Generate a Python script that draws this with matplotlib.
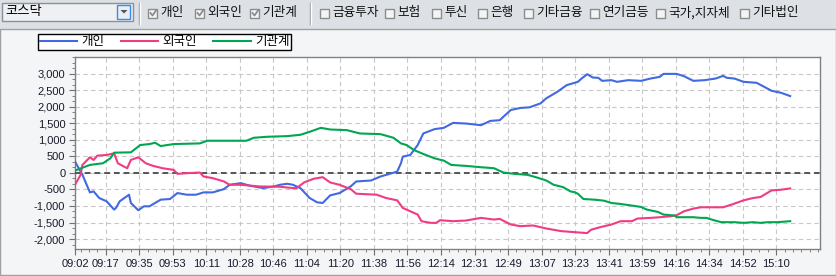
import matplotlib
matplotlib.use("Agg")
import matplotlib.pyplot as plt
from matplotlib.patches import Rectangle
from matplotlib.ticker import MultipleLocator, FuncFormatter

plt.rcParams['font.family'] = ['Liberation Sans', 'Noto Sans CJK KR']

# 시간축 라벨
time_labels = ['09:02', '09:17', '09:35', '09:53', '10:11', '10:28', '10:46', '11:04',
               '11:20', '11:38', '11:56', '12:14', '12:31', '12:49', '13:07', '13:23',
               '13:41', '13:59', '14:16', '14:34', '14:52', '15:10']

# 개인 (x = 데이터 순번, y = 순매수)
gaein_x = [0, 4, 8, 10, 13, 17, 21, 22, 24, 29, 30, 34, 37, 40, 46, 51, 55, 60, 65, 69,
           74, 80, 83, 89, 94, 101, 107, 110, 114, 117, 121, 126, 130, 133, 137, 142, 148,
           151, 159, 164, 169, 173, 175, 176, 180, 184, 187, 193, 198, 203, 210, 218, 223,
           228, 234, 239, 244, 250, 253, 259, 264, 270, 272, 275, 278, 281, 283, 288, 291,
           297, 304, 309, 314, 316, 323, 327, 332, 338, 344, 348, 350, 354, 359, 366, 370,
           374, 379, 384]
gaein_y = [340, -60, -590, -560, -760, -860, -1110, -1060, -860, -660, -910, -1130, -1010,
           -1010, -810, -790, -610, -660, -660, -590, -590, -490, -360, -310, -390, -460,
           -410, -360, -330, -360, -460, -760, -890, -910, -680, -610, -410, -260, -230,
           -110, -30, 40, 290, 490, 540, 840, 1190, 1320, 1360, 1510, 1490, 1440, 1570,
           1590, 1900, 1960, 1980, 2100, 2250, 2450, 2650, 2750, 2850, 2980, 2880, 2870,
           2780, 2800, 2750, 2800, 2780, 2850, 2900, 2990, 2990, 2920, 2780, 2800, 2850,
           2930, 2870, 2850, 2750, 2720, 2600, 2480, 2420, 2320]

# 외국인
foreign_x = [0, 3, 4, 8, 10, 12, 17, 21, 23, 28, 30, 34, 38, 42, 47, 53, 55, 60, 67, 69,
             74, 80, 83, 89, 99, 110, 117, 119, 123, 128, 133, 137, 142, 148, 151, 162,
             167, 173, 176, 180, 184, 186, 191, 194, 196, 203, 210, 218, 225, 228, 234,
             239, 246, 253, 261, 268, 275, 277, 282, 288, 293, 299, 302, 309, 314, 320,
             323, 327, 332, 336, 348, 354, 359, 364, 368, 374, 379, 384]
foreign_y = [-360, -60, 240, 470, 390, 520, 540, 590, 290, 140, 390, 470, 290, 210, 140,
             90, -30, -10, 10, -110, -160, -260, -360, -360, -410, -420, -460, -460, -290,
             -180, -130, -290, -360, -490, -630, -660, -760, -830, -1060, -1160, -1260,
             -1460, -1510, -1510, -1430, -1460, -1440, -1360, -1410, -1390, -1560, -1610,
             -1590, -1680, -1760, -1790, -1820, -1720, -1640, -1560, -1460, -1460, -1380,
             -1360, -1340, -1310, -1280, -1160, -1080, -1040, -1040, -930, -830, -760,
             -730, -530, -510, -470]

# 기관계
inst_x = [0, 8, 15, 19, 21, 30, 35, 40, 43, 46, 53, 67, 71, 92, 96, 103, 114, 121, 126,
          132, 137, 146, 153, 164, 171, 175, 178, 182, 187, 193, 198, 202, 210, 218, 225,
          230, 236, 243, 248, 253, 257, 262, 266, 268, 270, 273, 279, 284, 288, 293, 298,
          304, 307, 313, 316, 322, 323, 332, 336, 339, 343, 347, 354, 359, 364, 368, 372,
          377, 384]
inst_y = [70, 240, 290, 440, 610, 620, 840, 870, 910, 810, 870, 890, 970, 970, 1060, 1090,
          1110, 1150, 1240, 1360, 1310, 1290, 1190, 1170, 1060, 890, 840, 690, 570, 440,
          370, 240, 210, 170, 140, 10, -30, -60, -140, -230, -360, -430, -560, -580, -630,
          -790, -810, -840, -910, -940, -980, -1030, -1110, -1180, -1260, -1290, -1340,
          -1340, -1360, -1360, -1430, -1490, -1490, -1510, -1490, -1510, -1490, -1490,
          -1460]

W, H = 837, 276
fig = plt.figure(figsize=(W / 100, H / 100), dpi=100)
fig.patch.set_facecolor('#dde1e6')

# 배경 (툴바 + 차트 패널), 픽셀 좌표
bg = fig.add_axes([0, 0, 1, 1], zorder=-5)
bg.set_xlim(0, W)
bg.set_ylim(H, 0)
bg.axis('off')
bg.add_patch(Rectangle((0.5, 28.5), W - 1.5, H - 29.5, facecolor='#f3f5f7',
                       edgecolor='#a0a0a0', lw=1))

# 콤보박스
bg.add_patch(Rectangle((2.5, 2.5), 131, 18, facecolor='#eef0f3', edgecolor='#8a9098', lw=1))
bg.add_patch(Rectangle((117.5, 4.5), 13, 14, facecolor='#e8eef6', edgecolor='#3c8ce6', lw=1))
bg.fill([120.5, 127.5, 124], [10, 10, 13.5], color='#555555', lw=0)
bg.text(5, 11.5, '코스닥', fontsize=9.6, va='center', ha='left', color='black',
        family=['Noto Sans CJK KR'])

# 구분선
for sx in [139.5, 310.5]:
    bg.plot([sx, sx], [3, 24], color='#9aa0a8', lw=1)
    bg.plot([sx + 1, sx + 1], [3, 24], color='#ffffff', lw=1)

checks = [(148, '개인', True), (195, '외국인', True), (250, '기관계', True),
          (320, '금융투자', False), (385, '보험', False), (432, '투신', False),
          (478, '은행', False), (524, '기타금융', False), (590, '연기금등', False),
          (656, '국가,지자체', False), (740, '기타법인', False)]
for cx, label, on in checks:
    bg.add_patch(Rectangle((cx + 0.5, 8.5), 9, 9, facecolor='#f4f4f4', edgecolor='#8c8c8c', lw=1))
    if on:
        bg.plot([cx + 2.5, cx + 4.5, cx + 8], [13, 15.5, 10.5], color='#8c8c8c', lw=1.3)
    bg.text(cx + 12, 12.5, label, fontsize=9.1, va='center', ha='left', color='#111111',
            family=['Noto Sans CJK KR'])

# 차트
ax = fig.add_axes([75 / W, 27 / H, 745 / W, 192 / H])
ax.set_facecolor('white')
ax.plot(gaein_x, gaein_y, color='#4169e1', lw=1.5, label='개인', zorder=4)
ax.plot(foreign_x, foreign_y, color='#f03c82', lw=1.5, label='외국인', zorder=4)
ax.plot(inst_x, inst_y, color='#00a651', lw=1.5, label='기관계', zorder=4)
ax.axhline(0, color='#555555', lw=1.4, ls=(0, (3, 2)), zorder=3)

ax.set_xlim(0, 400)
ax.set_ylim(-2300, 3500)

tick_pos = [0] + [16.5 + 18 * k for k in range(len(time_labels) - 1)]
ax.set_xticks(tick_pos)
ax.set_xticklabels(time_labels)
ax.xaxis.set_minor_locator(MultipleLocator(4.5, offset=3))
ax.set_yticks(range(-2000, 3001, 500))
ax.yaxis.set_major_formatter(FuncFormatter(lambda v, p: f'{int(v):,}'))
ax.yaxis.set_minor_locator(MultipleLocator(500 / 3))

ax.grid(True, which='major', color='#c8c8c8', ls=(0, (4, 3)), lw=0.8)
for s in ax.spines.values():
    s.set_color('#808080')
    s.set_linewidth(1)
ax.tick_params(which='major', length=4, color='#707070', labelsize=8, labelcolor='#1a1a2a', pad=3)
ax.tick_params(which='minor', length=2, color='#707070')

leg = fig.legend(loc='upper left', bbox_to_anchor=(38 / W, 1 - 34 / H), ncol=3,
                 frameon=True, fancybox=False, edgecolor='black', framealpha=1,
                 fontsize=9, handlelength=3.0, handletextpad=0.35, columnspacing=1.3,
                 borderpad=0.12, borderaxespad=0)
leg.get_frame().set_linewidth(1.0)
for t in leg.get_texts():
    t.set_family(['Noto Sans CJK KR'])

fig.savefig('out.png', dpi=100)
